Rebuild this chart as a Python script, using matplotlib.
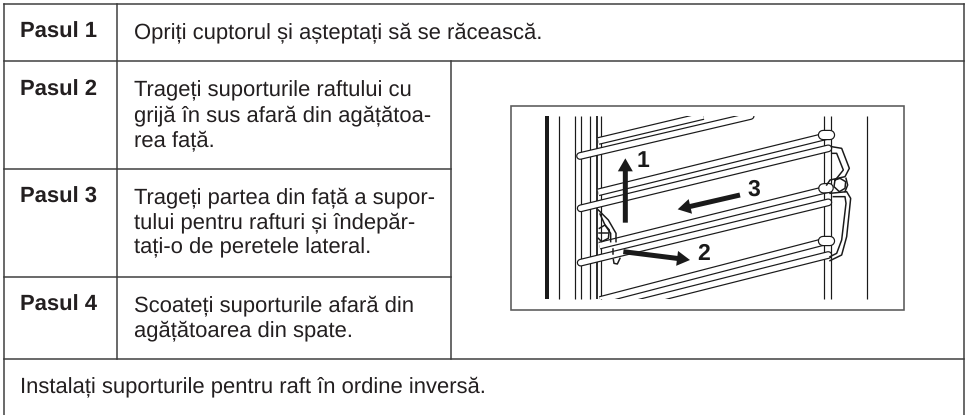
import matplotlib
matplotlib.use('Agg')
import matplotlib.pyplot as plt
from matplotlib.patches import Rectangle, FancyArrow

plt.rcParams['font.family'] = ['Liberation Sans', 'DejaVu Sans']
plt.rcParams['text.hinting'] = 'no_hinting'
plt.rcParams['text.hinting_factor'] = 1

# table text
step_labels = ['Pasul 1', 'Pasul 2', 'Pasul 3', 'Pasul 4']
step_lines = [
    ['Opriți cuptorul și așteptați să se răcească.'],
    ['Trageți suporturile raftului cu', 'grijă în sus afară din agățătoa-', 'rea față.'],
    ['Trageți partea din față a supor-', 'tului pentru rafturi și îndepăr-', 'tați-o de peretele lateral.'],
    ['Scoateți suporturile afară din', 'agățătoarea din spate.'],
]
step_baselines = [38, 96, 203, 311]
footer = 'Instalați suporturile pentru raft în ordine inversă.'
footer_baseline = 392

# table rules (pixels)
LEFT, RIGHT, TOP = 4, 964, 4
COL1, COL2 = 117.5, 451
ROW_Y = [61, 169, 277, 359]

INK = '#231f20'
RULE = '#3c3c3c'
WIRE = '#1a1a1a'
PX = 72 / 100  # one pixel in points
FS = 15.7


# the drawing was measured on a 3x crop starting at (480, 70)
def zx(x):
    return 480 + x / 3


def zy(y):
    return 70 + y / 3


def path(pts):
    return [zx(p[0]) for p in pts], [zy(p[1]) for p in pts]


def tube(pts, width, cap):
    xs, ys = path(pts)
    for col, w in [(WIRE, width + 2.4), ('white', width)]:
        ln = ax.plot(xs, ys, color=col, lw=w * PX, solid_capstyle=cap)[0]
        ln.set_clip_path(clip)


fig = plt.figure(figsize=(9.69, 4.15), dpi=100)
ax = fig.add_axes([0, 0, 1, 1])
ax.set_xlim(0, 969)
ax.set_ylim(415, 0)
ax.axis('off')

# table
ax.plot([LEFT, LEFT], [TOP, 415], color=RULE, lw=1.5 * PX)
ax.plot([RIGHT, RIGHT], [TOP, 415], color=RULE, lw=1.5 * PX)
ax.plot([LEFT, RIGHT], [TOP, TOP], color=RULE, lw=1.5 * PX)
ax.plot([LEFT, RIGHT], [ROW_Y[0], ROW_Y[0]], color=RULE, lw=1.5 * PX)
ax.plot([LEFT, RIGHT], [ROW_Y[3], ROW_Y[3]], color=RULE, lw=1.5 * PX)
for y in ROW_Y[1:3]:
    ax.plot([LEFT, COL2], [y, y], color=RULE, lw=1.5 * PX)
ax.plot([COL1, COL1], [TOP, ROW_Y[3]], color=RULE, lw=1.5 * PX)
ax.plot([COL2, COL2], [ROW_Y[0], ROW_Y[3]], color=RULE, lw=1.5 * PX)

for label, lines, base in zip(step_labels, step_lines, step_baselines):
    ax.text(20, base, label, fontsize=FS, fontweight='bold', color=INK, va='baseline')
    for i, line in enumerate(lines):
        ax.text(134, base + i * 25, line, fontsize=FS, color=INK, va='baseline')
ax.text(20, footer_baseline, footer, fontsize=FS, color=INK, va='baseline')

# picture frame
ax.add_patch(Rectangle((511, 106), 393, 204, fc='white', ec='#5a5a5a', lw=1.6 * PX))

clip = Rectangle((zx(185), zy(138)), (1175 - 185) / 3, (686 - 138) / 3, transform=ax.transData)

# uprights: x position, width in px
uprights = [(200, 4), (237, 1.2), (285, 1.2), (303, 1.2), (331, 1.2), (352, 1.8), (363, 1.2),
            (1032, 1.2), (1052, 1.2), (1162, 1.2)]
for x, w in uprights:
    ax.plot([zx(x), zx(x)], [zy(138), zy(686)], color=WIRE, lw=w * PX, solid_capstyle='butt')

# shelf rails, each one a tube: dark stroke with a white core
butt_rails = [
    [(355, 213), (670, 138)],
    [(355, 367), (1045, 197)],
    [(358, 527), (1045, 357)],
    [(360, 690), (1045, 512)],
]
round_rails = [
    [(300, 258), (812, 138)],
    [(302, 415), (1045, 235)],
    [(302, 578), (1045, 397)],
    [(470, 700), (1045, 555)],
]
for r in butt_rails:
    tube(r, 5.4, 'butt')
for r in round_rails:
    tube(r, 5.4, 'round')

# knobs where the upper tubes hook round the right upright
knobs = [
    [(1030, 196), (1050, 196)],
    [(1030, 355), (1046, 354)],
    [(1030, 512), (1050, 512)],
]
for k in knobs:
    tube(k, 8, 'round')

# wire brackets and rings
wires = [
    [(1055, 230), (1085, 235), (1108, 295), (1095, 320), (1050, 330), (1040, 345)],
    [(1055, 250), (1070, 250), (1090, 300), (1070, 325)],
    [(1050, 370), (1100, 365), (1112, 385), (1100, 500), (1085, 555), (1050, 572)],
    [(1060, 380), (1095, 380), (1098, 400), (1085, 510), (1070, 550), (1050, 560)],
    [(1065, 330), (1062, 350), (1078, 365), (1095, 355), (1097, 335), (1080, 325), (1065, 330)],
    [(1098, 325), (1103, 345), (1095, 365)],
    [(355, 420), (385, 450), (408, 490), (408, 515)],
    [(360, 432), (375, 465), (392, 490), (392, 515)],
    [(358, 475), (375, 465), (388, 480), (385, 505), (365, 515), (355, 505)],
    [(358, 490), (385, 490)],
    [(400, 568), (402, 580), (412, 582), (420, 565)],
    [(400, 538), (400, 552)],
]
for w in wires:
    xs, ys = path(w)
    ax.plot(xs, ys, color=WIRE, lw=1.5 * PX, solid_joinstyle='round')

# numbered arrows: tail and tip
arrows = [
    [(436, 458), (436, 265)],
    [(780, 375), (593, 418)],
    [(430, 545), (630, 570)],
]
for a in arrows:
    (x0, y0), (x1, y1) = a
    ax.add_patch(FancyArrow(zx(x0), zy(y0), (x1 - x0) / 3, (y1 - y0) / 3, width=5,
                            head_width=15, head_length=13, length_includes_head=True,
                            fc=WIRE, ec='none', zorder=5))

arrow_numbers = ['1', '2', '3']
number_pos = [(490, 272), (672, 553), (822, 360)]
for n, (x, y) in zip(arrow_numbers, number_pos):
    ax.text(zx(x), zy(y), n, fontsize=16.5, fontweight='bold', color=WIRE, ha='center', va='center')

fig.savefig('out.png', dpi=100)
